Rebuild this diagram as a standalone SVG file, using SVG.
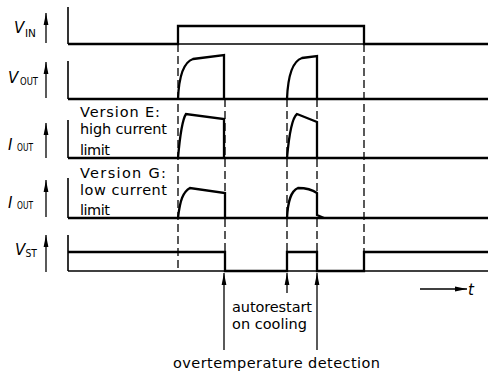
<svg xmlns="http://www.w3.org/2000/svg" width="490" height="379" viewBox="0 0 490 379">
<style>
.sig{fill:none;stroke:#000;stroke-width:2.3;stroke-linejoin:miter}
.base{fill:none;stroke:#000;stroke-width:1.6}
.dash{fill:none;stroke:#000;stroke-width:1.3;stroke-dasharray:8,4}
.ax{fill:none;stroke:#000;stroke-width:1.3;marker-end:url(#ah)}
.lbl{font-family:"DejaVu Sans",sans-serif;font-size:14.5px;fill:#000}
.sym{font-family:"DejaVu Sans",sans-serif;font-size:15px;font-style:italic;fill:#000}
.sub{font-family:"DejaVu Sans",sans-serif;font-size:10.5px;fill:#000}
</style>
<defs>
<marker id="ah" markerUnits="userSpaceOnUse" viewBox="0 0 12 6" refX="12" refY="3" markerWidth="12" markerHeight="6" orient="auto">
<path d="M0,0.6 L12,3 L0,5.4 z" fill="#000"/>
</marker>
</defs>

<g id="vin">
<text class="sym" x="14" y="33">V</text><text class="sub" x="25" y="37" textLength="11" lengthAdjust="spacingAndGlyphs">IN</text>
<line class="ax" x1="46" y1="43" x2="46" y2="13"/>
<line class="base" x1="68" y1="7" x2="68" y2="44"/>
<line class="base" x1="68" y1="44" x2="488" y2="44"/>
<path class="sig" d="M68,44 H178 V26 H364 V44 H488"/>
</g>

<g id="vout">
<text class="sym" x="8" y="83">V</text><text class="sub" x="20" y="84.5" textLength="18" lengthAdjust="spacingAndGlyphs">OUT</text>
<line class="ax" x1="46" y1="98" x2="46" y2="62"/>
<line class="base" x1="68" y1="61" x2="68" y2="99"/>
<path class="sig" d="M68,99 H488"/>
<path class="sig" d="M178,99 C179,75 184,62 193,59 L224,55 V99"/>
<path class="sig" d="M287,99 C288,74 293,61 302,58 L317,56 V99"/>
</g>

<g id="iout-e">
<text class="sym" x="8" y="150">I</text><text class="sub" x="17" y="150.5" textLength="16" lengthAdjust="spacingAndGlyphs">OUT</text>
<line class="ax" x1="46" y1="158" x2="46" y2="123"/>
<line class="base" x1="68" y1="120" x2="68" y2="158"/>
<text class="lbl" x="80" y="117" textLength="80" lengthAdjust="spacing">Version E:</text>
<text class="lbl" x="80" y="134" textLength="87" lengthAdjust="spacing">high current</text>
<text class="lbl" x="80" y="155" textLength="30" lengthAdjust="spacing">limit</text>
<path class="sig" d="M68,158 H488"/>
<path class="sig" d="M178,158 C180,135 182,120 186,114 L224,119 V158"/>
<path class="sig" d="M287,158 C289,135 292,118 297,114 L317,122 V158"/>
</g>

<g id="iout-g">
<text class="sym" x="8" y="208">I</text><text class="sub" x="17" y="208.5" textLength="16" lengthAdjust="spacingAndGlyphs">OUT</text>
<line class="ax" x1="46" y1="217" x2="46" y2="180"/>
<line class="base" x1="68" y1="178" x2="68" y2="218"/>
<text class="lbl" x="80" y="178" textLength="86" lengthAdjust="spacing">Version G:</text>
<text class="lbl" x="80" y="195" textLength="87" lengthAdjust="spacing">low current</text>
<text class="lbl" x="80" y="215" textLength="30" lengthAdjust="spacing">limit</text>
<path class="sig" d="M68,218 H488"/>
<path class="sig" d="M178,218 C180,200 183,192 190,188 L225,193 V218"/>
<path class="sig" d="M287,218 C288,200 291,191 298,188 Q310,188 317,193 V215 L324,218"/>
</g>

<g id="vst">
<text class="sym" x="15" y="255">V</text><text class="sub" x="25.5" y="256.5" textLength="11.5" lengthAdjust="spacingAndGlyphs">ST</text>
<line class="ax" x1="46" y1="272" x2="46" y2="235"/>
<line class="base" x1="68" y1="235" x2="68" y2="271"/>
<line class="base" x1="68" y1="271" x2="488" y2="271"/>
<path class="sig" d="M68,252 H225 V271 H287 V252 H317 V271 H364 V252 H488"/>
</g>

<g id="connectors">
<line class="dash" x1="178" y1="44" x2="178" y2="271"/>
<line class="dash" x1="225" y1="99" x2="225" y2="271"/>
<line class="dash" x1="287" y1="99" x2="287" y2="271"/>
<line class="dash" x1="317" y1="99" x2="317" y2="271"/>
<line class="dash" x1="364" y1="44" x2="364" y2="271"/>
<line class="ax" x1="224" y1="350" x2="224" y2="273"/>
<line class="ax" x1="287" y1="293" x2="287" y2="273"/>
<line class="ax" x1="317" y1="350" x2="317" y2="273"/>
<line class="ax" x1="420" y1="289" x2="467" y2="289"/>
</g>

<g id="annotations">
<text class="sym" x="468" y="295">t</text>
<text class="lbl" x="232" y="312" textLength="80" lengthAdjust="spacing">autorestart</text>
<text class="lbl" x="232" y="329" textLength="75" lengthAdjust="spacing">on cooling</text>
<text class="lbl" x="173" y="368" textLength="207" lengthAdjust="spacing">overtemperature detection</text>
</g>
</svg>
